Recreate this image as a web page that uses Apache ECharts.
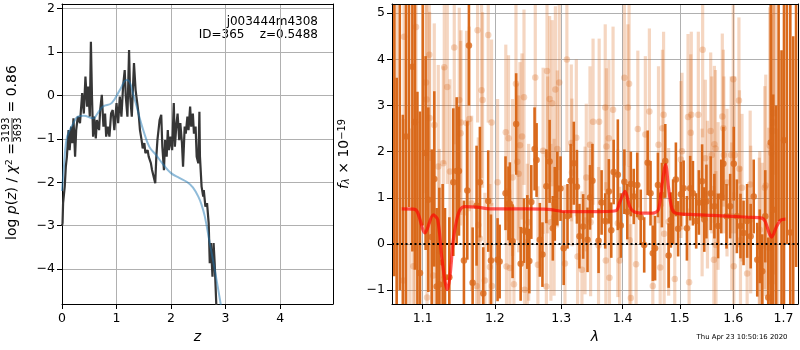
<!DOCTYPE html>
<html>
<head>
<meta charset="utf-8">
<script src="https://cdn.jsdelivr.net/npm/echarts@6/dist/echarts.min.js"></script>
<style>
  html, body { margin: 0; padding: 0; background: #fff; }
  #chart { width: 800px; height: 350px; }
</style>
</head>
<body>
<div id="chart"></div>
<script>
// ---- left panel: log p(z) ----
const zDark = [0.00, 0.01, 0.02, 0.05, 0.07, 0.09, 0.12, 0.14, 0.17, 0.19, 0.21, 0.24, 0.26, 0.29, 0.33, 0.37, 0.40, 0.43, 0.46, 0.48,
  0.51, 0.53, 0.55, 0.57, 0.59, 0.62, 0.64, 0.68, 0.70, 0.73, 0.76, 0.79, 0.81, 0.84, 0.87, 0.90, 0.93, 0.96, 1.00, 1.03,
  1.06, 1.09, 1.12, 1.15, 1.17, 1.20, 1.23, 1.25, 1.28, 1.32, 1.35, 1.38, 1.41, 1.43, 1.46, 1.48, 1.51, 1.53, 1.57, 1.59,
  1.63, 1.65, 1.71, 1.73, 1.75, 1.79, 1.82, 1.84, 1.87, 1.89, 1.92, 1.94, 1.96, 1.99, 2.02, 2.05, 2.07, 2.10, 2.12, 2.15,
  2.17, 2.20, 2.22, 2.25, 2.27, 2.30, 2.32, 2.35, 2.37, 2.40, 2.42, 2.45, 2.47, 2.50, 2.52, 2.53, 2.56, 2.59, 2.60, 2.63,
  2.66, 2.69, 2.71, 2.73, 2.76, 2.78, 2.80, 2.83, 2.86];
const logpDark = [-3.00, -2.94, -2.48, -2.10, -1.64, -1.41, -0.80, -1.26, -0.72, -1.10, -0.53, -1.41, -0.80, -0.49, -0.64, 0.05, -0.42, 0.43, -0.26, 0.20,
  -0.49, 1.23, -0.03, -0.95, -0.49, -0.99, -0.57, -0.80, -0.34, 0.01, -0.72, -0.42, -0.95, -0.72, -0.95, -0.42, -0.34, -0.80, -0.18, -0.64,
  -0.03, -0.49, 0.20, 0.58, -0.03, -0.49, 1.04, -0.03, -0.49, 0.74, 0.12, -0.18, -0.49, -0.80, -1.03, -1.22, -1.10, -1.33, -1.26, -1.41,
  -1.56, -1.71, -2.02, -1.41, -1.03, -0.57, -0.45, -1.18, -1.72, -1.03, -1.41, -0.80, -1.26, -0.95, -1.26, -0.18, -1.18, -0.64, -0.42, -1.03,
  -0.64, -1.10, -1.64, -0.72, -0.88, -0.49, -0.80, -0.26, -0.72, -0.42, -0.88, -0.72, -1.41, -1.56, -0.38, -1.41, -2.10, -2.33, -2.18, -2.56,
  -2.48, -2.94, -3.86, -3.40, -4.17, -3.40, -3.86, -4.82, -5.50];
const zSmooth = [0.00, 0.03, 0.08, 0.14, 0.20, 0.29, 0.40, 0.57, 0.65, 0.75, 0.91, 1.06, 1.18, 1.24, 1.30, 1.37,
  1.43, 1.49, 1.60, 1.73, 1.85, 2.00, 2.15, 2.30, 2.40, 2.50, 2.56, 2.62, 2.71, 2.80, 2.91, 3.00];
const logpSmooth = [-2.20, -1.72, -1.03, -0.80, -0.66, -0.49, -0.47, -0.53, -0.42, -0.26, -0.18, 0.12, 0.35, 0.31, 0.05, -0.26,
  -0.55, -0.80, -1.18, -1.38, -1.58, -1.79, -1.90, -2.00, -2.12, -2.33, -2.52, -2.79, -3.40, -4.00, -4.80, -5.50];
const zTicks = [0, 1, 2, 3, 4];
const logpTicks = [-4, -3, -2, -1, 0, 1, 2];

// ---- right panel: spectrum ----
const darkLam = [1.063, 1.066, 1.070, 1.074, 1.0781, 1.082, 1.0864, 1.0898, 1.093, 1.0964, 1.100,
  1.1039, 1.1075, 1.1120, 1.1155, 1.1187, 1.1223, 1.1268, 1.1300, 1.1359, 1.1414, 1.1460, 1.1492, 1.1561, 1.1608, 1.1631, 1.1683, 1.1739, 1.1786, 1.1834, 1.1905, 1.1944,
  1.204, 1.207, 1.2156, 1.2199, 1.222, 1.226, 1.2313, 1.238, 1.243, 1.248, 1.251, 1.254, 1.259, 1.262, 1.267, 1.271, 1.277, 1.282, 1.287, 1.290, 1.294, 1.299, 1.304, 1.310, 1.315, 1.320, 1.325, 1.329, 1.335, 1.342, 1.346, 1.350,
  1.360, 1.365, 1.371, 1.377, 1.381, 1.385, 1.392, 1.397, 1.403, 1.408, 1.414, 1.419, 1.425, 1.431, 1.437, 1.443, 1.448, 1.452, 1.456, 1.461, 1.468, 1.474, 1.480, 1.484, 1.488, 1.493, 1.497, 1.502, 1.507, 1.513, 1.519, 1.524, 1.530, 1.535,
  1.541, 1.545, 1.549, 1.557, 1.564, 1.571, 1.577, 1.581, 1.587, 1.594, 1.601, 1.607, 1.614, 1.620, 1.627, 1.634, 1.640, 1.647, 1.652, 1.657, 1.663, 1.669,
  1.674, 1.679, 1.685, 1.690, 1.696, 1.701, 1.707, 1.714, 1.720, 1.726];
const darkFlux = [5.8, -1.9, 6.5, -2.2, 2.33, 6.8, 3.84, 2.64, -1.7, -0.63, 5.9,
  1.97, 0.96, 0.15, 1.41, -0.92, -0.88, -0.40, -0.72, -0.72, 1.34, 1.58, 1.58, -0.36, 1.16, 4.30, -0.84, 0.83, 1.34, -1.07, 0.93, -0.36,
  -0.34, -0.38, 1.10, 0.88, 0.87, 0.06, 2.60, -0.43, 0.29, 0.26, -0.37, 0.91, 2.06, 1.82, 0.09, -0.23, 1.25, 1.79, 0.34, 0.87, 1.20, 1.20, -0.09, 0.60, 1.37, 1.75, 1.24, 0.17, 0.38, 0.09, 1.01, 1.37,
  0.07, 0.90, 0.50, 1.14, 0.30, 1.56, 1.50, 0.40, 1.35, 0.70, 1.30, 1.03, 1.28, 0.58, -0.02, 1.76, 1.10, -0.20, -0.09, 1.28, 1.06, 1.80, -0.25, 0.52, 0.70, 1.40, 0.33, 1.08, 1.21, 0.34, 1.21, 1.10, 0.50, 0.90,
  1.36, 0.53, 0.92, 1.10, 0.82, 0.39, 1.03, 1.74, 0.60, 0.82, 1.74, 0.60, 0.39, 0.24, 0.50, 0.17, 1.03, -0.34, -0.05, -0.59, 0.60, -1.16,
  2.20, 0.74, -2.0, 6.5, -1.8, 2.25, 7.0, 0.25, -2.5, 6.0];
const darkErr = [6.5, 5.5, 7.5, 5.0, 4.5, 6.0, 4.0, 3.2, 5.0, 3.5, 5.5,
  2.1, 2.0, 1.9, 1.9, 1.7, 2.1, 1.7, 1.5, 1.3, 1.6, 1.6, 1.4, 1.3, 1.5, 1.3, 1.2, 1.3, 1.2, 1.0, 1.1, 1.0,
  0.9, 0.8, 0.8, 0.8, 0.9, 0.8, 1.1, 0.8, 0.7, 0.8, 0.7, 0.8, 0.9, 0.8, 0.8, 0.7, 0.8, 0.9, 0.7, 0.8, 0.8, 0.7, 0.8, 0.7, 0.8, 0.9, 0.8, 0.7, 0.7, 0.7, 0.7, 0.8,
  0.7, 0.7, 0.6, 0.7, 0.6, 0.7, 1.2, 0.7, 0.7, 0.6, 0.7, 0.6, 0.7, 0.6, 0.6, 0.7, 0.7, 0.6, 0.7, 0.7, 0.7, 0.8, 0.7, 0.6, 0.7, 0.8, 0.6, 0.7, 0.6, 0.7, 0.7, 0.7, 0.6, 0.7,
  0.8, 0.7, 0.8, 0.8, 0.7, 0.7, 0.8, 0.8, 0.7, 0.7, 0.8, 0.8, 0.7, 0.7, 0.8, 0.7, 0.8, 0.8, 0.8, 0.8, 1.0, 1.3,
  3.5, 2.5, 5.0, 6.0, 6.0, 5.0, 7.0, 5.5, 7.0, 6.5];

const lightLam = [1.066, 1.0746, 1.0755, 1.083, 1.0877, 1.0898, 1.0912, 1.1044, 1.1053, 1.1058, 1.1088, 1.1092, 1.1142, 1.1155, 1.1209, 1.1223, 1.1277, 1.1290, 1.1331,
  1.1368, 1.1427, 1.1496, 1.1515, 1.1519, 1.1598, 1.1636, 1.1669, 1.1739, 1.1753, 1.1763, 1.1786, 1.1810, 1.1824, 1.1857, 1.1905, 1.1929, 1.1953, 1.1958,
  1.204, 1.216, 1.217, 1.220, 1.222, 1.226, 1.228, 1.231, 1.233, 1.235, 1.237, 1.240, 1.243, 1.244, 1.248, 1.250, 1.260, 1.264, 1.272, 1.277, 1.278,
  1.279, 1.282, 1.284, 1.286, 1.289, 1.291, 1.294, 1.297, 1.306, 1.309, 1.316, 1.317, 1.324, 1.326, 1.333, 1.338, 1.340, 1.346, 1.347, 1.351,
  1.360, 1.361, 1.371, 1.372, 1.373, 1.377, 1.378, 1.384, 1.392, 1.395, 1.403, 1.409, 1.411, 1.412, 1.414, 1.423, 1.426, 1.439, 1.446, 1.452,
  1.462, 1.465, 1.469, 1.471, 1.472, 1.480, 1.491, 1.502, 1.504, 1.515, 1.517, 1.520, 1.521,
  1.534, 1.541, 1.542, 1.547, 1.551, 1.557, 1.559, 1.563, 1.564, 1.566, 1.567, 1.571, 1.579, 1.581, 1.582, 1.588, 1.596, 1.597, 1.600, 1.601,
  1.603, 1.611, 1.612, 1.614, 1.617, 1.627, 1.633, 1.634, 1.651, 1.652, 1.657, 1.662, 1.664, 1.670, 1.672, 1.675, 1.678, 1.679, 1.680, 1.684, 1.688];
const lightFlux = [6.0, -0.79, 4.49, -2.0, -0.48, -0.08, 4.70, 3.50, 3.13, -1.16, 4.10, 2.73, -0.68, 2.58, 1.68, -0.14, 1.75, 3.83, 3.40,
  1.57, 4.26, 3.12, 2.40, 2.63, 2.62, 2.71, 0.88, -0.91, 4.63, 0.41, 0.12, 3.33, 3.12, -0.79, 4.53, -0.50, 2.63, -0.91,
  1.34, 2.42, -0.49, 2.29, -0.52, 1.44, -0.87, 3.47, 1.78, 1.52, 2.14, 2.33, 3.18, -0.99, 0.04, 0.47, 3.61, -0.45, 2.02, -0.92, 3.75,
  1.93, 3.14, 0.47, 3.05, 0.58, 3.35, 2.06, 3.50, -0.42, 4.00, 2.19, 1.55, 2.30, -0.27, -0.56, 0.51, 1.44, 2.15, 0.47, 2.65,
  -0.03, 2.65, 2.96, -0.36, 2.11, 2.29, -0.73, 2.91, 0.45, -0.36, 3.60, 2.96, 3.47, 0.08, -1.17, -0.44, 2.49, 2.37, 2.87, -0.91,
  2.15, -0.51, 2.51, 2.80, 0.22, 0.48, -0.76, 1.83, 2.01, 2.75, -0.83, 2.41, 2.80,
  2.80, 0.90, 4.21, 1.86, 1.07, 2.45, 1.93, -0.34, 2.16, 2.07, -0.02, 1.04, 2.76, 2.51, 1.93, 1.33, 1.93, 0.60, 3.57, -0.48,
  1.93, 3.11, 1.63, 0.08, 1.22, -0.64, 1.29, 0.53, 0.17, 0.31, -0.04, 1.22, 1.27, -0.08, 2.13, 1.97, 2.45, 2.63, 2.84, 5.5, -1.5];
const lightErr = [5.0, 3.5, 3.5, 4.5, 3.2, 3.2, 3.0, 2.4, 2.4, 2.4, 2.3, 2.3, 2.2, 2.2, 2.2, 2.2, 2.1, 2.1, 2.1,
  2.0, 2.1, 2.0, 2.0, 2.0, 2.0, 2.0, 1.9, 1.9, 2.0, 1.9, 1.9, 1.9, 1.9, 1.9, 1.9, 1.8, 1.8, 1.8,
  1.8, 1.9, 1.7, 1.8, 1.7, 1.7, 1.7, 1.9, 1.7, 1.7, 1.8, 1.8, 1.9, 1.7, 1.7, 1.7, 1.9, 1.7, 1.8, 1.7, 1.9,
  1.7, 1.8, 1.7, 1.8, 1.7, 1.8, 1.7, 1.9, 1.7, 2.0, 1.7, 1.6, 1.7, 1.7, 1.7, 1.6, 1.6, 1.7, 1.6, 1.8,
  1.7, 1.8, 1.8, 1.7, 1.7, 1.7, 1.7, 1.8, 1.6, 1.6, 1.9, 1.8, 1.8, 1.6, 1.6, 1.6, 1.7, 1.7, 1.8, 1.6,
  1.7, 1.6, 1.7, 1.8, 1.6, 1.6, 1.6, 1.7, 1.7, 1.8, 1.6, 1.7, 1.8,
  1.8, 1.6, 1.9, 1.7, 1.6, 1.7, 1.7, 1.6, 1.7, 1.7, 1.6, 1.6, 1.8, 1.7, 1.7, 1.6, 1.7, 1.6, 1.8, 1.6,
  1.7, 1.8, 1.7, 1.6, 1.6, 1.6, 1.6, 1.6, 1.7, 1.7, 1.8, 2.2, 2.4, 2.6, 3.0, 3.0, 3.5, 3.5, 3.5, 4.0, 4.0];

const lamModel = [1.0725, 1.0898, 1.1031, 1.1141, 1.1201, 1.1255, 1.1300, 1.1331, 1.1368, 1.1413, 1.1460, 1.1506, 1.1575, 1.1739, 1.1929,
  1.2469, 1.2800, 1.3084, 1.3500, 1.3885, 1.3955, 1.4041, 1.4122, 1.4194, 1.4370, 1.4520, 1.4618, 1.4677, 1.4747, 1.4796, 1.4855, 1.4920,
  1.5200, 1.5600, 1.5973, 1.6300, 1.6562, 1.6628, 1.6707, 1.6758, 1.6858, 1.6946, 1.7040];
const fluxModel = [0.76, 0.75, 0.24, 0.63, 0.53, -0.27, -0.81, -0.99, -0.70, 0.08, 0.52, 0.74, 0.81, 0.80, 0.76,
  0.76, 0.75, 0.70, 0.70, 0.72, 0.91, 1.14, 0.81, 0.70, 0.67, 0.67, 0.74, 1.24, 1.72, 1.24, 0.78, 0.67,
  0.64, 0.62, 0.60, 0.58, 0.56, 0.49, 0.24, 0.15, 0.38, 0.52, 0.54];
const lamTicks = [1.1, 1.2, 1.3, 1.4, 1.5, 1.6, 1.7];
const fluxTicks = [-1, 0, 1, 2, 3, 4, 5];

const FONT = 'DejaVu Sans';
const ORANGE = '#d9691b';

function minusFmt(v) {
  return v < 0 ? '\u2212' + (-v) : String(v);
}

function zip(xs, ys, fx) {
  return xs.map((x, i) => [fx ? fx(x) : x, ys[i]]);
}

// vertical error bars drawn through the axis scales
function errorBars(lam, flux, err, color, width) {
  return {
    type: 'custom',
    xAxisIndex: 1,
    yAxisIndex: 1,
    clip: true,
    silent: true,
    data: lam.map((l, i) => [Math.log(l), flux[i] - err[i], flux[i] + err[i]]),
    encode: { x: 0, y: [1, 2] },
    renderItem: function (params, api) {
      const lo = api.coord([api.value(0), api.value(1)]);
      const hi = api.coord([api.value(0), api.value(2)]);
      return {
        type: 'line',
        shape: { x1: lo[0], y1: lo[1], x2: hi[0], y2: hi[1] },
        style: { stroke: color, lineWidth: width }
      };
    }
  };
}

function baseAxis(extra) {
  return Object.assign({
    type: 'value',
    axisLine: { show: true, onZero: false, lineStyle: { color: '#000', width: 1 } },
    splitLine: { show: true, lineStyle: { color: '#b0b0b0', width: 1 } }
  }, extra);
}

function frameAxis(gridIndex, position) {
  return {
    type: 'value', gridIndex: gridIndex, position: position, min: 0, max: 1, z: 10,
    axisLine: { show: true, onZero: false, lineStyle: { color: '#000', width: 1 } },
    axisTick: { show: false }, axisLabel: { show: false }, splitLine: { show: false }
  };
}

const tickStyle = { show: true, length: 5, lineStyle: { color: '#000', width: 1 } };
const labelStyle = { color: '#000', fontSize: 12.5, fontFamily: FONT };

const chart = echarts.init(document.getElementById('chart'));

chart.setOption({
  animation: false,
  backgroundColor: '#fff',
  textStyle: { fontFamily: FONT },
  grid: [
    { left: 62, top: 4, width: 271, height: 300, outerBoundsMode: 'none' },
    { left: 392, top: 4, width: 406, height: 300, outerBoundsMode: 'none' }
  ],
  xAxis: [
    baseAxis({
      gridIndex: 0, min: 0, max: 4.97,
      name: 'z', nameLocation: 'middle', nameGap: 26,
      nameTextStyle: { fontStyle: 'italic', fontSize: 14, color: '#000', fontFamily: FONT },
      axisTick: Object.assign({ customValues: zTicks }, tickStyle),
      axisLabel: Object.assign({ customValues: zTicks, margin: 8, formatter: minusFmt }, labelStyle)
    }),
    baseAxis({
      gridIndex: 1, min: Math.log(1.06), max: Math.log(1.73),
      name: 'λ', nameLocation: 'middle', nameGap: 26,
      nameTextStyle: { fontStyle: 'italic', fontSize: 14, color: '#000', fontFamily: FONT },
      axisTick: Object.assign({ customValues: lamTicks.map(Math.log) }, tickStyle),
      axisLabel: Object.assign({
        customValues: lamTicks.map(Math.log), margin: 8,
        formatter: v => Math.exp(v).toFixed(1)
      }, labelStyle)
    }),
    frameAxis(0, 'top'),
    frameAxis(1, 'top')
  ],
  yAxis: [
    baseAxis({
      gridIndex: 0, min: -4.8, max: 2.1,
      axisTick: Object.assign({ customValues: logpTicks }, tickStyle),
      axisLabel: Object.assign({ customValues: logpTicks, margin: 7, formatter: minusFmt }, labelStyle)
    }),
    baseAxis({
      gridIndex: 1, min: -1.3, max: 5.2,
      axisTick: Object.assign({ customValues: fluxTicks }, tickStyle),
      axisLabel: Object.assign({ customValues: fluxTicks, margin: 7, formatter: minusFmt }, labelStyle)
    }),
    frameAxis(0, 'right'),
    frameAxis(1, 'right')
  ],
  series: [
    {
      type: 'line', xAxisIndex: 0, yAxisIndex: 0,
      data: zip(zDark, logpDark), showSymbol: false, symbol: 'none',
      lineStyle: { color: '#363636', width: 2.2 }, z: 3
    },
    {
      type: 'line', xAxisIndex: 0, yAxisIndex: 0,
      data: zip(zSmooth, logpSmooth), showSymbol: false, symbol: 'none', smooth: 0.4,
      lineStyle: { color: 'rgba(31,119,180,0.5)', width: 2 }, z: 4
    },
    errorBars(lightLam, lightFlux, lightErr, 'rgba(217,105,27,0.27)', 3.2),
    {
      type: 'scatter', xAxisIndex: 1, yAxisIndex: 1,
      data: zip(lightLam, lightFlux, Math.log), symbolSize: 6.5,
      itemStyle: { color: 'rgba(217,105,27,0.35)' }, silent: true
    },
    errorBars(darkLam, darkFlux, darkErr, ORANGE, 2.6),
    {
      type: 'scatter', xAxisIndex: 1, yAxisIndex: 1,
      data: zip(darkLam, darkFlux, Math.log), symbolSize: 6.5,
      itemStyle: { color: ORANGE }, silent: true
    },
    {
      type: 'line', xAxisIndex: 1, yAxisIndex: 1,
      data: zip(lamModel, fluxModel, Math.log), showSymbol: false, symbol: 'none', smooth: 0.3,
      lineStyle: { color: 'rgba(255,0,0,0.65)', width: 3.2 }, z: 6,
      markLine: {
        silent: true, symbol: 'none', label: { show: false },
        lineStyle: { color: '#000', type: [2, 2.5], width: 2 },
        data: [{ yAxis: 0 }]
      }
    }
  ],
  graphic: [
    {
      type: 'text', x: 318, y: 22,
      style: { text: 'j003444m4308', align: 'right', verticalAlign: 'middle', fontSize: 12, fontFamily: FONT, fill: '#000' }
    },
    {
      type: 'text', x: 318, y: 35,
      style: { text: 'ID=365    z=0.5488', align: 'right', verticalAlign: 'middle', fontSize: 12, fontFamily: FONT, fill: '#000' }
    },
    {
      type: 'group', x: 12, y: 154, rotation: Math.PI / 2,
      children: [
        {
          type: 'text', x: -86, y: 0,
          style: {
            text: '{n|log }{i|p}{n|(}{i|z}{n|) / }{i|χ}{s|2}{n| = }',
            align: 'left', verticalAlign: 'middle', fill: '#000',
            rich: {
              n: { fontSize: 14, fontFamily: FONT },
              i: { fontSize: 14, fontFamily: FONT, fontStyle: 'italic' },
              s: { fontSize: 9.5, fontFamily: FONT, verticalAlign: 'top' }
            }
          }
        },
        {
          type: 'text', x: 24, y: -5.5,
          style: { text: '3193', align: 'center', verticalAlign: 'middle', fontSize: 9.8, fontFamily: FONT, fill: '#000' }
        },
        {
          type: 'line', shape: { x1: 12, y1: 0, x2: 36, y2: 0 },
          style: { stroke: '#000', lineWidth: 0.8 }
        },
        {
          type: 'text', x: 24, y: 6,
          style: { text: '3693', align: 'center', verticalAlign: 'middle', fontSize: 9.8, fontFamily: FONT, fill: '#000' }
        },
        {
          type: 'text', x: 37, y: 0,
          style: { text: ' = 0.86', align: 'left', verticalAlign: 'middle', fontSize: 14, fontFamily: FONT, fill: '#000' }
        }
      ]
    },
    {
      type: 'group', x: 344, y: 154, rotation: Math.PI / 2,
      children: [
        {
          type: 'text', x: 0, y: 0,
          style: {
            text: '{i|f}{sub|λ}{n| × 10}{sup|−19}',
            align: 'center', verticalAlign: 'middle', fill: '#000',
            rich: {
              n: { fontSize: 14, fontFamily: FONT },
              i: { fontSize: 14, fontFamily: FONT, fontStyle: 'italic' },
              sub: { fontSize: 9.8, fontFamily: FONT, fontStyle: 'italic', verticalAlign: 'bottom' },
              sup: { fontSize: 9.8, fontFamily: FONT, verticalAlign: 'top' }
            }
          }
        }
      ]
    },
    {
      type: 'text', x: 742, y: 337,
      style: { text: 'Thu Apr 23 10:50:16 2020', align: 'center', verticalAlign: 'middle', fontSize: 6.9, fontFamily: FONT, fill: '#000' }
    }
  ]
});
</script>
</body>
</html>
